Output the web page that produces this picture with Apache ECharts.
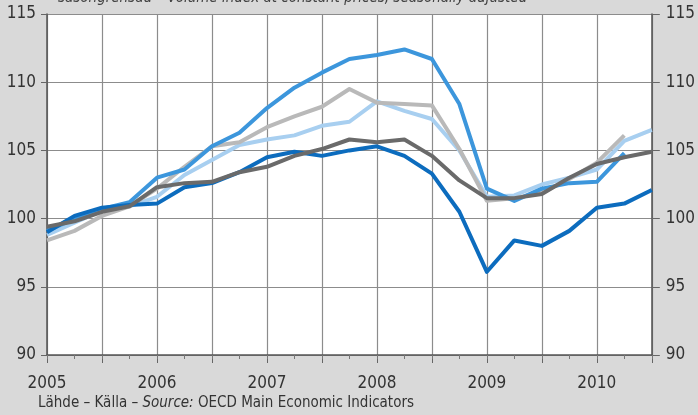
<!DOCTYPE html>
<html>
<head>
<meta charset="utf-8">
<script src="https://cdn.jsdelivr.net/npm/echarts@6/dist/echarts.min.js"></script>
<style>
html,body{margin:0;padding:0;background:#d9d9d9;}
#chart{width:698px;height:415px;}
</style>
</head>
<body>
<div id="chart"></div>
<script>
// quarterly, 2005Q1 .. 2010Q3
var quarters = [];
for (var y = 2005; y <= 2010; y++) {
    for (var q = 1; q <= 4; q++) {
        if (y == 2010 && q == 4) break;
        quarters.push(y + 'Q' + q);
    }
}
var yTicks = [90, 95, 100, 105, 110, 115];

var darkBlue  = [99.0, 100.2, 100.8, 101.0, 101.1, 102.3, 102.6, 103.4, 104.5, 104.9, 104.6, 105.0, 105.3, 104.6, 103.3, 100.5, 96.1, 98.4, 98.0, 99.1, 100.8, 101.1, 102.1];
var midBlue   = [99.1, 100.0, 100.7, 101.2, 103.0, 103.6, 105.3, 106.3, 108.1, 109.6, 110.7, 111.7, 112.0, 112.4, 111.7, 108.4, 102.2, 101.3, 102.2, 102.6, 102.7, 104.8, null];
var lightBlue = [98.8, 99.7, 100.6, 100.9, 101.6, 103.2, 104.3, 105.4, 105.8, 106.1, 106.8, 107.1, 108.6, 107.9, 107.3, 105.0, 101.6, 101.7, 102.5, 103.0, 103.6, 105.7, 106.5];
var lightGray = [98.4, 99.1, 100.2, 100.9, 102.2, 103.8, 105.3, 105.6, 106.7, 107.5, 108.2, 109.5, 108.5, 108.4, 108.3, 105.1, 101.3, 101.5, 101.9, 102.9, 104.1, 106.1, null];
var darkGray  = [99.4, 99.8, 100.5, 100.9, 102.3, 102.6, 102.7, 103.4, 103.8, 104.6, 105.1, 105.8, 105.6, 105.8, 104.6, 102.8, 101.5, 101.5, 101.8, 103.0, 104.0, 104.5, 104.9];

var font = "'Liberation Sans Narrow','DejaVu Sans Condensed','Liberation Sans',sans-serif";

var dom = document.getElementById('chart');
var myChart = echarts.init(dom);

function line(name, data, color) {
    return {
        name: name,
        type: 'line',
        data: data,
        symbol: 'none',
        connectNulls: false,
        lineStyle: { color: color, width: 4, join: 'round' },
        itemStyle: { color: color }
    };
}

var option = {
    backgroundColor: '#d9d9d9',
    animation: false,
    graphic: [
        {
            type: 'text', left: 58, top: -9,
            style: { text: 'säsongrensad – Volume index at constant prices, seasonally adjusted', font: 'italic 15px ' + font, fill: '#444' }
        },
        {
            type: 'text', left: 38, top: 396,
            style: {
                text: 'Lähde – Källa – {i|Source:} OECD Main Economic Indicators',
                font: '15px ' + font, fill: '#333',
                rich: { i: { fontStyle: 'italic', fontSize: 15, fontFamily: font, fill: '#333' } }
            }
        }
    ],
    grid: { left: 47, right: 41, top: 14, bottom: 60, backgroundColor: '#ffffff', show: true, borderWidth: 0 },
    xAxis: [
        {
            type: 'category',
            data: quarters,
            boundaryGap: false,
            axisLine: { lineStyle: { color: '#555', width: 1.5 } },
            axisTick: { length: 8, interval: function (i) { return i % 2 == 0; }, lineStyle: { color: '#666' } },
            splitLine: { show: true, interval: function (i) { return i % 2 == 0; }, lineStyle: { color: '#8c8c8c', width: 1.2 } },
            axisLabel: {
                interval: function (i) { return i % 4 == 0; },
                formatter: function (v) { return v.slice(0, 4); },
                margin: 20, fontSize: 17, fontFamily: font, color: '#333'
            }
        },
        {
            type: 'category',
            data: quarters,
            boundaryGap: false,
            position: 'bottom',
            axisLine: { show: false },
            axisTick: { length: 4, interval: 0, lineStyle: { color: '#777' } },
            axisLabel: { show: false },
            splitLine: { show: false }
        }
    ],
    yAxis: [
        {
            type: 'value', min: 90, max: 115, interval: 5,
            axisLine: { show: true, lineStyle: { color: '#555', width: 1.5 } },
            axisTick: { show: true, length: 6, lineStyle: { color: '#666' } },
            splitLine: { lineStyle: { color: '#8c8c8c', width: 1.2 } },
            axisLabel: { margin: 11, fontSize: 17, fontFamily: font, color: '#333' }
        },
        {
            type: 'value', min: 90, max: 115, interval: 5, position: 'right',
            axisLine: { show: true, lineStyle: { color: '#555', width: 1.5 } },
            axisTick: { show: true, length: 8, lineStyle: { color: '#666' } },
            splitLine: { show: false },
            axisLabel: { margin: 14, fontSize: 17, fontFamily: font, color: '#333' }
        }
    ],
    series: [
        line('lightBlue', lightBlue, '#a8cff0'),
        line('lightGray', lightGray, '#b9b9b9'),
        line('midBlue', midBlue, '#3c96dc'),
        line('darkBlue', darkBlue, '#0c6cbe'),
        line('darkGray', darkGray, '#6a6a6a')
    ]
};

myChart.setOption(option, true);
</script>
</body>
</html>
